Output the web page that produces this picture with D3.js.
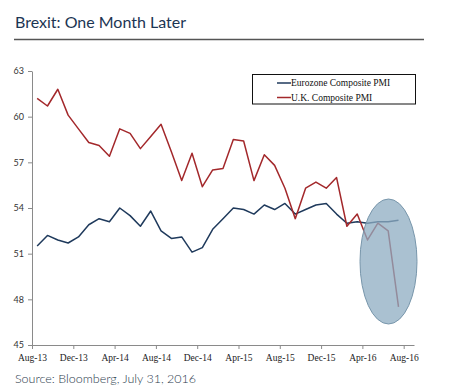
<!DOCTYPE html>
<html>
<head>
<meta charset="utf-8">
<script src="https://cdn.jsdelivr.net/npm/d3@7"></script>
<style>
  body { margin: 0; background: #fff; }
  svg { display: block; }
</style>
</head>
<body>
<div id="chart"></div>
<script>
// Brexit: One Month Later - monthly composite PMI

// Category labels, Aug-13 .. Aug-16 (37 months on the axis, data to Jul-16)
const months = [
    'Aug-13', 'Sep-13', 'Oct-13', 'Nov-13', 'Dec-13', 'Jan-14', 'Feb-14', 'Mar-14',
    'Apr-14', 'May-14', 'Jun-14', 'Jul-14', 'Aug-14', 'Sep-14', 'Oct-14', 'Nov-14',
    'Dec-14', 'Jan-15', 'Feb-15', 'Mar-15', 'Apr-15', 'May-15', 'Jun-15', 'Jul-15',
    'Aug-15', 'Sep-15', 'Oct-15', 'Nov-15', 'Dec-15', 'Jan-16', 'Feb-16', 'Mar-16',
    'Apr-16', 'May-16', 'Jun-16', 'Jul-16', 'Aug-16'
];

const eurozonePMI = [
    51.5, 52.2, 51.9, 51.7, 52.1, 52.9, 53.3, 53.1, 54.0, 53.5, 52.8, 53.8,
    52.5, 52.0, 52.1, 51.1, 51.4, 52.6, 53.3, 54.0, 53.9, 53.6, 54.2, 53.9,
    54.3, 53.6, 53.9, 54.2, 54.3, 53.6, 53.0, 53.1, 53.0, 53.1, 53.1, 53.2
];

const ukPMI = [
    61.2, 60.7, 61.8, 60.1, 59.2, 58.3, 58.1, 57.4, 59.2, 58.9, 57.9, 58.7,
    59.5, 57.7, 55.8, 57.6, 55.4, 56.5, 56.6, 58.5, 58.4, 55.8, 57.5, 56.8,
    55.3, 53.3, 55.3, 55.7, 55.3, 56.0, 52.8, 53.6, 51.9, 53.0, 52.5, 47.5
];

const yTicks = [45, 48, 51, 54, 57, 60, 63];

const series = [
    { name: 'Eurozone Composite PMI', values: eurozonePMI, color: '#1f3a5c' },
    { name: 'U.K. Composite PMI', values: ukPMI, color: '#a3282b' }
];

const width = 450;
const height = 387;

const svg = d3.select('#chart')
    .append('svg')
    .attr('width', width)
    .attr('height', height);

// Title and rule
svg.append('text')
    .attr('x', 15)
    .attr('y', 28)
    .attr('font-family', 'Lato, "Open Sans", sans-serif')
    .attr('font-size', '16px')
    .attr('fill', '#1c3553')
    .text('Brexit: One Month Later');

svg.append('line')
    .attr('x1', 14).attr('x2', 424)
    .attr('y1', 39.5).attr('y2', 39.5)
    .attr('stroke', '#555')
    .attr('stroke-width', 1.3);

// Scales
const x = d3.scaleLinear()
    .domain([0, months.length])
    .range([32, 414]);

const y = d3.scaleLinear()
    .domain([45, 63])
    .range([345, 71]);

// Axes
const xAxis = d3.axisBottom(x)
    .tickValues(d3.range(0, months.length, 4))
    .tickFormat(i => months[i])
    .tickSize(4)
    .tickSizeOuter(0);

const yAxis = d3.axisLeft(y)
    .tickValues(yTicks)
    .tickSize(4)
    .tickSizeOuter(0);

const gx = svg.append('g')
    .attr('transform', 'translate(0,345)')
    .call(xAxis);
gx.select('.domain').attr('stroke', '#8a8a8a');
gx.selectAll('.tick line').attr('stroke', '#8a8a8a');
gx.selectAll('.tick text')
    .attr('font-family', '"Liberation Serif", "Times New Roman", serif')
    .attr('font-size', '9.5px')
    .attr('fill', '#222')
    .attr('dy', '0.9em')
    .attr('y', 7.5);

const gy = svg.append('g')
    .attr('transform', 'translate(32,0)')
    .call(yAxis);
gy.select('.domain').attr('stroke', '#8a8a8a');
gy.selectAll('.tick line').attr('stroke', '#8a8a8a');
gy.selectAll('.tick text')
    .attr('font-family', 'Lato, "Open Sans", sans-serif')
    .attr('font-size', '9px')
    .attr('fill', '#333')
    .attr('x', -8);

// Lines
const line = d3.line()
    .x((d, i) => x(i + 0.5))
    .y(d => y(d));

svg.append('g')
    .selectAll('path')
    .data(series)
    .enter().append('path')
    .attr('d', d => line(d.values))
    .attr('fill', 'none')
    .attr('stroke', d => d.color)
    .attr('stroke-width', 1.5)
    .attr('stroke-linejoin', 'round');

// Highlight ellipse over the post-referendum months
svg.append('ellipse')
    .attr('cx', 388.5)
    .attr('cy', 261.5)
    .attr('rx', 28.5)
    .attr('ry', 62.5)
    .attr('fill', '#8eacc1')
    .attr('fill-opacity', 0.75)
    .attr('stroke', '#7896ab')
    .attr('stroke-width', 1);

// Legend
const legend = svg.append('g');
legend.append('rect')
    .attr('x', 252.5).attr('y', 74.5)
    .attr('width', 163).attr('height', 29.5)
    .attr('fill', '#fff')
    .attr('stroke', '#111')
    .attr('stroke-width', 1);

const legendItems = legend.selectAll('g.item')
    .data(series)
    .enter().append('g')
    .attr('class', 'item')
    .attr('transform', (d, i) => `translate(277,${83 + i * 14.5})`);

legendItems.append('line')
    .attr('x1', 0).attr('x2', 14)
    .attr('stroke', d => d.color)
    .attr('stroke-width', 1.5);

legendItems.append('text')
    .attr('x', 14)
    .attr('dy', '0.35em')
    .attr('font-family', '"Liberation Serif", "Times New Roman", serif')
    .attr('font-size', '9.5px')
    .attr('fill', '#111')
    .text(d => d.name);

// Source note
svg.append('text')
    .attr('x', 15)
    .attr('y', 383)
    .attr('font-family', 'Lato, "Open Sans", sans-serif')
    .attr('font-weight', 300)
    .attr('font-size', '12.5px')
    .attr('fill', '#2b3a4c')
    .text('Source: Bloomberg, July 31, 2016');
</script>
</body>
</html>
